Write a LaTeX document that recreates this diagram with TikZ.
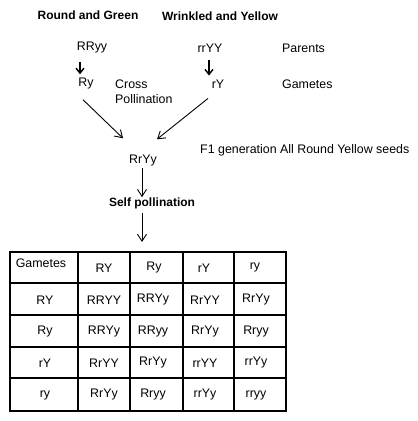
\documentclass[tikz,border=0pt]{standalone}
\usepackage{fontspec}
\setmainfont{Liberation Sans}
\usetikzlibrary{arrows.meta}
\begin{document}
\begin{tikzpicture}[x=1pt,y=-1pt,
  txt/.style={inner sep=0pt,font=\fontsize{12.4}{14}\selectfont},
  btxt/.style={inner sep=0pt,font=\fontsize{12}{14}\selectfont\bfseries},
  arr/.style={line width=0.9pt,-{Straight Barb[length=7pt,width=9pt,line width=0.9pt]}},
  sarr/.style={line width=1.6pt,-{Straight Barb[length=5pt,width=8pt,line width=1.4pt]}},
  grid/.style={line width=1.6pt},
  cell/.style={inner sep=0pt,font=\fontsize{12.4}{14}\selectfont}]
\useasboundingbox (0,0) rectangle (418,421);
\fill[white] (0,0) rectangle (418,421);
% headings
\node[btxt] (rg) at (88,15) {Round and Green};
\node[btxt] (wy) at (220,16) {Wrinkled and Yellow};
% parents
\node[txt] (RRyy) at (92,48) {RRyy};
\node[txt] (rrYY) at (210,48) {rrYY};
\node[txt,anchor=west] (par) at (282,48) {Parents};
% gametes
\node[txt] (Ry) at (86,84) {Ry};
\node[txt] (rY) at (218,84) {rY};
\node[txt,anchor=west] (cross) at (115,84) {Cross};
\node[txt,anchor=west] (poll) at (115,99) {Pollination};
\node[txt,anchor=west] (gam) at (282,84) {Gametes};
% F1
\node[txt,anchor=west] (f1) at (200,150) {F1 generation All Round Yellow seeds};
\node[txt] (RrYy) at (143,161) {RrYy};
\node[btxt] (self) at (152,203) {Self pollination};
% arrows (yshift is in page direction: positive = up)
\draw[sarr] ([xshift=-12pt,yshift=-8pt]RRyy.south) -- ([xshift=-6pt,yshift=4pt]Ry.north);
\draw[sarr] ([xshift=-1pt,yshift=-8pt]rrYY.south) -- ([xshift=-9pt,yshift=4pt]rY.north);
\draw[arr] ([xshift=-3pt,yshift=-10pt]Ry.south) -- ([xshift=-20pt,yshift=17pt]RrYy.north);
\draw[arr] ([xshift=-10pt,yshift=-10pt]rY.south) -- ([xshift=14pt,yshift=16pt]RrYy.north);
\draw[arr] ([xshift=-1pt,yshift=-1pt]RrYy.south) -- ([xshift=-10pt,yshift=0pt]self.north);
% table
\coordinate (tl) at (10,252);
\coordinate (br) at (286,411);
\draw[grid] (tl) rectangle (br);
\foreach \x in {78,130,183,234} \draw[grid] (\x,252) -- (\x,411);
\foreach \y in {283,315,347,378} \draw[grid] (10,\y) -- (286,\y);
\coordinate (tbltop) at (142,242);
\draw[arr] ([xshift=-10pt,yshift=-4pt]self.south) -- (tbltop);
% header row
\node[cell] (h0) at (41,263) {Gametes};
\node[cell] (h1) at (104,268) {RY};
\node[cell] (h2) at (154,268) {Ry};
\node[cell] (h3) at (204,268) {rY};
\node[cell] (h4) at (255,267) {ry};
% rows
\foreach \r/\yy/\lab/\a/\b/\c/\d in {1/300/RY/RRYY/RRYy/RrYY/RrYy,
  2/332/Ry/RRYy/RRyy/RrYy/Rryy,
  3/363/rY/RrYY/RrYy/rrYY/rrYy,
  4/395/ry/RrYy/Rryy/rrYy/rryy}{
  \node[cell] (r\r c0) at (45,\yy) {\lab};
  \node[cell] (r\r c1) at (104,\yy) {\a};
  \node[cell] (r\r c2) at (153,\yy) {\b};
  \node[cell] (r\r c3) at (205,\yy) {\c};
  \node[cell] (r\r c4) at (256,\yy) {\d};
}
\end{tikzpicture}
\end{document}
